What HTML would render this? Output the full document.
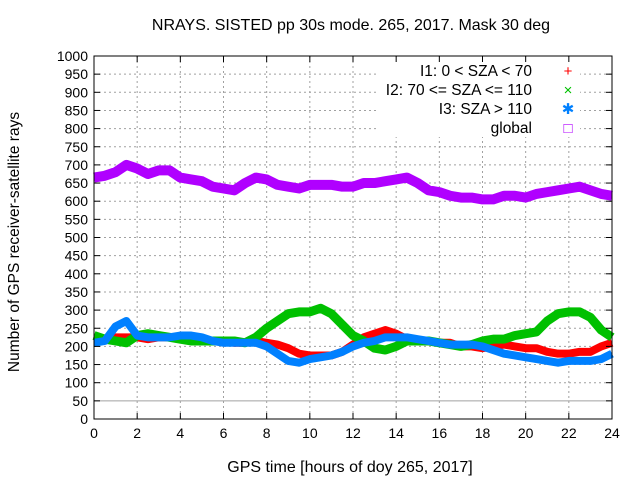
<!DOCTYPE html>
<html><head><meta charset="utf-8"><style>
body{margin:0;background:#fff}
svg{display:block;font-family:"Liberation Sans",sans-serif}
</style></head><body>
<svg id="c" width="640" height="480"></svg>
<script>
const hours=[];for(let i=0;i<=48;i++)hours.push(i*0.5);
const globalVals=[665,670,680,700,690,675,685,685,665,660,655,640,635,630,650,665,660,645,640,635,645,645,645,640,640,650,650,655,660,665,650,630,625,615,610,610,605,605,615,615,610,620,625,630,635,640,630,620,615];
const i2Vals=[230,220,215,210,230,235,230,225,220,215,215,215,215,215,210,225,250,270,290,295,295,305,290,260,230,215,195,190,200,215,215,215,210,205,200,205,215,220,220,230,235,240,270,290,295,295,280,245,225];
const i1Vals=[215,220,225,225,225,220,225,225,225,225,220,215,215,210,210,215,210,205,195,180,175,175,175,185,205,225,235,245,235,220,215,215,210,210,200,200,195,200,205,200,195,195,185,180,180,185,185,200,210];
const i3Vals=[210,215,255,270,230,225,225,225,230,230,225,215,210,210,210,210,200,180,160,155,165,170,175,185,200,210,215,225,225,225,220,215,210,205,205,205,200,190,180,175,170,165,160,155,160,160,160,165,180];
const xTicks=[0,2,4,6,8,10,12,14,16,18,20,22,24];
const yTicks=[0,50,100,150,200,250,300,350,400,450,500,550,600,650,700,750,800,850,900,950,1000];
const L=94,R=612,T=56,B=419;
const X=v=>L+(R-L)*v/24, Y=v=>B-(B-T)*v/1000;
const svg=document.getElementById('c');const NS='http://www.w3.org/2000/svg';
function mk(t,a,p){const e=document.createElementNS(NS,t);for(const k in a)e.setAttribute(k,a[k]);(p||svg).appendChild(e);return e;}
for(const t of xTicks){if(t>0&&t<24){const g=mk('line',{x1:X(t),x2:X(t),y1:T,y2:B,stroke:'#a0a0a0','stroke-dasharray':'2,3'});

}}
for(const t of yTicks){if(t>0&&t<1000){const g=mk('line',{x1:L,x2:R,y1:Y(t),y2:Y(t),stroke:'#a0a0a0','stroke-dasharray':t==50?'':'2,3'});

}}
const lb=mk('rect',{x:378,y:57,width:202,height:80,fill:'#fff'});


function series(vals,col,w,name){const p=mk('polyline',{points:vals.map((v,i)=>X(hours[i])+','+Y(v)).join(' '),fill:'none',stroke:col,'stroke-width':w,'stroke-linejoin':'round'});

}
series(globalVals,'#b000ff',10,'series-global');
series(i1Vals,'#ff0000',8,'series-i1');
series(i2Vals,'#00c000',9,'series-i2');
series(i3Vals,'#0080ff',8,'series-i3');
const fr=mk('rect',{x:L,y:T,width:R-L,height:B-T,fill:'none',stroke:'#000','stroke-width':1});


for(const t of xTicks){mk('line',{x1:X(t),x2:X(t),y1:B,y2:B-6,stroke:'#000'});mk('line',{x1:X(t),x2:X(t),y1:T,y2:T+6,stroke:'#000'});
const tx=mk('text',{x:X(t),y:B+19,'text-anchor':'middle','font-size':14});tx.textContent=t;

}
for(const t of yTicks){mk('line',{x1:L,x2:L+6,y1:Y(t),y2:Y(t),stroke:'#000'});mk('line',{x1:R,x2:R-6,y1:Y(t),y2:Y(t),stroke:'#000'});
const tx=mk('text',{x:L-6,y:Y(t)+5,'text-anchor':'end','font-size':14});tx.textContent=t;

}
function txt(s,a,name){const t=mk('text',a);t.textContent=s;

return t;}
txt('NRAYS. SISTED pp 30s mode. 265, 2017. Mask 30 deg',{x:351,y:30,'text-anchor':'middle','font-size':16},'chart-title');
txt('GPS time [hours of doy 265, 2017]',{x:350,y:472,'text-anchor':'middle','font-size':16},'x-axis-title');
txt('Number of GPS receiver-satellite rays',{x:0,y:0,'text-anchor':'middle','font-size':15.5,transform:'translate(19,242) rotate(-90)'},'y-axis-title');
const leg=[['I1: 0 < SZA < 70','#ff0000','+'],['I2: 70 <= SZA <= 110','#00c000','×'],['I3: SZA > 110','#0080ff','✱'],['global','#b000ff','□']];
leg.forEach((l,i)=>{const y=76+i*19;
txt(l[0],{x:532,y:y,'text-anchor':'end','font-size':15.5},'legend-label');
txt(l[2],{x:568,y:y,'text-anchor':'middle','font-size':15,fill:l[1]},'legend-marker');});
</script>
</body></html>
